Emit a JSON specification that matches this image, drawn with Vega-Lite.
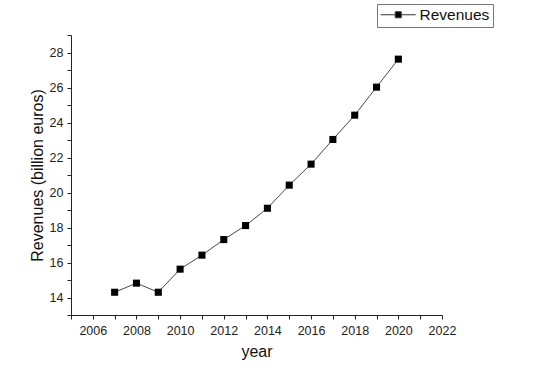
{
  "$schema": "https://vega.github.io/schema/vega-lite/v6.json",
  "autosize": {"type": "none"},
  "width": 371,
  "height": 280,
  "padding": {"left": 71, "top": 35, "right": 93, "bottom": 56},
  "background": "white",
  "config": {
    "view": {"stroke": null},
    "font": "Liberation Sans",
    "axis": {
      "grid": false,
      "domainColor": "#222",
      "tickColor": "#222",
      "tickSize": 4,
      "labelFont": "Liberation Sans",
      "labelFontSize": 12.5,
      "labelColor": "#222",
      "titleFont": "Liberation Sans",
      "titleFontSize": 16,
      "titleFontWeight": "normal",
      "titleColor": "#111"
    }
  },
  "data": {
    "values": [
      {"year": 2007, "revenue": 14.3},
      {"year": 2008, "revenue": 14.82},
      {"year": 2009, "revenue": 14.3},
      {"year": 2010, "revenue": 15.62},
      {"year": 2011, "revenue": 16.42},
      {"year": 2012, "revenue": 17.31},
      {"year": 2013, "revenue": 18.11},
      {"year": 2014, "revenue": 19.1},
      {"year": 2015, "revenue": 20.42},
      {"year": 2016, "revenue": 21.62},
      {"year": 2017, "revenue": 23.03},
      {"year": 2018, "revenue": 24.42},
      {"year": 2019, "revenue": 26.02},
      {"year": 2020, "revenue": 27.62}
    ]
  },
  "encoding": {
    "x": {
      "field": "year",
      "type": "quantitative",
      "scale": {"domain": [2005, 2022], "nice": false, "zero": false},
      "axis": {
        "title": "year",
        "values": [2005, 2006, 2007, 2008, 2009, 2010, 2011, 2012, 2013, 2014, 2015, 2016, 2017, 2018, 2019, 2020, 2021, 2022],
        "labelExpr": "datum.value % 2 == 0 ? datum.label : ''",
        "format": "d",
        "labelPadding": 5,
        "titlePadding": 7,
        "labelFlush": false
      }
    },
    "y": {
      "field": "revenue",
      "type": "quantitative",
      "scale": {"domain": [13, 29], "nice": false, "zero": false},
      "axis": {
        "title": "Revenues (billion euros)",
        "values": [13, 14, 15, 16, 17, 18, 19, 20, 21, 22, 23, 24, 25, 26, 27, 28, 29],
        "labelExpr": "datum.value % 2 == 0 ? datum.label : ''",
        "labelPadding": 4,
        "titlePadding": 4,
        "labelFlush": false
      }
    }
  },
  "layer": [
    {
      "mark": {"type": "line", "color": "#333", "strokeWidth": 0.9}
    },
    {
      "mark": {"type": "point", "shape": "square", "filled": true, "size": 50, "opacity": 1},
      "encoding": {
        "color": {
          "datum": "Revenues",
          "scale": {"range": ["black"]},
          "legend": {
            "title": null,
            "orient": "none",
            "legendX": 306,
            "legendY": -31,
            "strokeColor": "#777",
            "padding": 3,
            "symbolType": "M-1,0H1.07M1.93,0H4M1.07,-0.43H1.93V0.43H1.07Z",
            "symbolSize": 196,
            "symbolStrokeWidth": 1,
            "symbolStrokeColor": "#333",
            "symbolFillColor": "black",
            "labelFont": "Liberation Sans",
            "labelFontSize": 15.5,
            "labelColor": "#111",
            "labelOffset": 24
          }
        }
      }
    }
  ]
}
